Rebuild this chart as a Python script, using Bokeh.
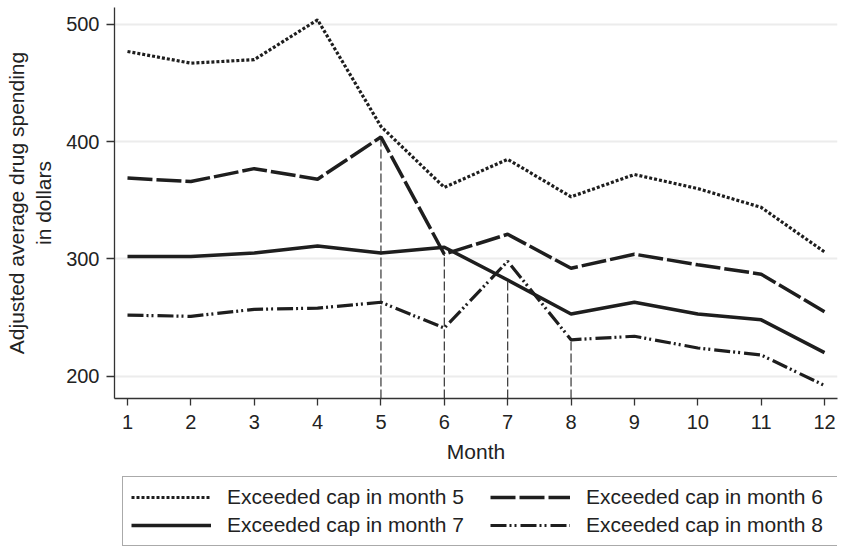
from bokeh.plotting import figure
from bokeh.models import Legend, LegendItem, Range1d, FixedTicker
from bokeh.layouts import column
from bokeh.embed import file_html
from bokeh.resources import INLINE

# ---- data ----
months = [1, 2, 3, 4, 5, 6, 7, 8, 9, 10, 11, 12]
cap5 = [477, 467, 470, 504, 413, 361, 385, 353, 372, 360, 344, 306]
cap6 = [369, 366, 377, 368, 404, 304, 321, 292, 304, 295, 287, 255]
cap7 = [302, 302, 305, 311, 305, 310, 282, 253, 263, 253, 248, 220]
cap8 = [252, 251, 257, 258, 263, 241, 298, 231, 234, 224, 218, 192]
series_labels = ["Exceeded cap in month 5", "Exceeded cap in month 6",
                 "Exceeded cap in month 7", "Exceeded cap in month 8"]
y_ticks = [200, 300, 400, 500]
drop_months = [5, 6, 7, 8]
drop_tops = [cap6[4], cap6[5], cap7[6], cap8[7]]

FONT = "Liberation Sans"
INK = "#1e1e1e"
Y_MIN, Y_MAX = 180.9, 514.5
styles = [dict(line_width=3.2, line_dash="3 2"),
          dict(line_width=3.5, line_dash="25 4"),
          dict(line_width=3.5, line_dash="solid"),
          dict(line_width=3.2, line_dash="16 3 2 3 2 4")]
series = [cap5, cap6, cap7, cap8]

p = figure(width=847, height=470, output_backend="svg", toolbar_location=None,
           x_range=Range1d(0.795, 12.205), y_range=Range1d(Y_MIN, Y_MAX),
           min_border_left=114, min_border_right=10, min_border_top=7,
           min_border_bottom=72)
p.outline_line_color = None
p.background_fill_color = "white"
p.border_fill_color = "white"

# grid
p.xgrid.grid_line_color = None
p.ygrid.grid_line_color = "#ececec"
p.ygrid.grid_line_width = 2

# axes
for ax in (p.xaxis[0], p.yaxis[0]):
    ax.axis_line_color = "#333333"
    ax.axis_line_width = 1.3
    ax.major_tick_line_color = "#333333"
    ax.major_tick_line_width = 1.3
    ax.minor_tick_line_color = None
    ax.major_tick_in = 0
    ax.major_label_text_font = FONT
    ax.major_label_text_font_size = "20px"
    ax.major_label_text_color = "#222222"
    ax.axis_label_text_font = FONT
    ax.axis_label_text_font_size = "21px"
    ax.axis_label_text_font_style = "normal"
    ax.axis_label_text_color = "#222222"

p.xaxis.ticker = FixedTicker(ticks=months)
p.xaxis.major_tick_out = 7
p.xaxis.major_label_standoff = 9
p.xaxis.axis_label = "Month"
p.xaxis.axis_label_standoff = 8

p.yaxis.ticker = FixedTicker(ticks=y_ticks)
p.yaxis.major_tick_out = 8
p.yaxis.major_label_standoff = 7
p.yaxis.major_label_orientation = "horizontal"
p.yaxis.axis_label = "Adjusted average drug spending\nin dollars"
p.yaxis.axis_label_standoff = 8

# drop lines
p.segment(x0=drop_months, y0=[Y_MIN] * len(drop_months), x1=drop_months, y1=drop_tops,
          line_color="#333333", line_width=1.2, line_dash="9 3")

# series
for ys, st in zip(series, styles):
    p.line(months, ys, line_color=INK, **st)

# ---- legend strip below the chart (its frame is aligned with the chart frame) ----
lg = figure(width=847, height=76, output_backend="svg", toolbar_location=None,
            x_range=Range1d(0, 1), y_range=Range1d(0, 1),
            min_border_left=0, min_border_right=0, min_border_top=0,
            min_border_bottom=0)
lg.axis.visible = False
lg.grid.visible = False
lg.outline_line_color = None
lg.background_fill_color = "white"
lg.border_fill_color = "white"

items = []
for lab, ys, st in zip(series_labels, series, styles):
    # same series, drawn outside this strip's visible range: only the legend key shows
    r = lg.line(months, ys, line_color=INK, **st)
    items.append(LegendItem(label=lab, renderers=[r]))

legend = Legend(items=items, orientation="horizontal", ncols=2, location=(8, 0),
                margin=0, padding=8, spacing=4, glyph_width=80, glyph_height=20,
                label_standoff=16, label_width=259,
                label_text_font=FONT, label_text_font_size="21px",
                label_text_color="#222222",
                border_line_color="#555555", border_line_width=1.3,
                background_fill_color="white", background_fill_alpha=1)
lg.add_layout(legend, "center")

layout = column(p, lg, spacing=0)
open("out.html", "w").write(file_html(layout, INLINE))
